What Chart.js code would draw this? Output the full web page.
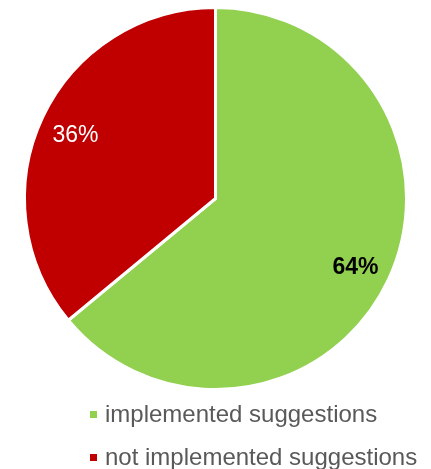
<!DOCTYPE html>
<html>
<head>
<meta charset="utf-8">
<script src="https://cdn.jsdelivr.net/npm/chart.js@4"></script>
<style>
  html, body { margin: 0; padding: 0; background: #fff; }
  #wrap { width: 431px; height: 469px; }
</style>
</head>
<body>
<div id="wrap"><canvas id="pieChart" width="431" height="469"></canvas></div>
<script>
// Data
const categories  = ['implemented suggestions', 'not implemented suggestions'];
const shares      = [64, 36];
const shareLabels = ['64%', '36%'];
const sliceColors = ['#92D050', '#C00000'];

// Percent labels inside the slices
const sliceLabels = {
  id: 'sliceLabels',
  afterDatasetsDraw(chart) {
    const ctx = chart.ctx;
    const arcs = chart.getDatasetMeta(0).data;
    ctx.save();
    ctx.textAlign = 'center';
    ctx.textBaseline = 'middle';
    arcs.forEach((arc, i) => {
      const p = arc.getProps(['x', 'y', 'startAngle', 'endAngle', 'outerRadius'], true);
      const mid = (p.startAngle + p.endAngle) / 2;
      const r = p.outerRadius * 0.81;
      const bold = i === 0;
      ctx.font = (bold ? 'bold ' : '') + '23px "Liberation Sans", Arial, sans-serif';
      ctx.fillStyle = bold ? '#000000' : '#ffffff';
      // small nudge down so the digits sit centred like the original
      ctx.fillText(shareLabels[i], p.x + Math.cos(mid) * r, p.y + Math.sin(mid) * r + 3);
    });
    ctx.restore();
  }
};

// Legend stacked under the pie
const stackedLegend = {
  id: 'stackedLegend',
  afterDraw(chart) {
    const ctx = chart.ctx;
    ctx.save();
    ctx.font = '24px "Liberation Sans", Arial, sans-serif';
    ctx.textBaseline = 'alphabetic';
    ctx.textAlign = 'left';
    categories.forEach((name, i) => {
      const base = 422 + i * 43;
      ctx.fillStyle = sliceColors[i];
      ctx.fillRect(90, base - 11, 7, 7);
      ctx.fillStyle = '#595959';
      ctx.fillText(name, 105, base);
    });
    ctx.restore();
  }
};

const ctx = document.getElementById('pieChart').getContext('2d');
new Chart(ctx, {
  type: 'pie',
  data: {
    labels: categories,
    datasets: [{
      data: shares,
      backgroundColor: sliceColors,
      borderColor: '#ffffff',
      borderWidth: 3
    }]
  },
  options: {
    responsive: false,
    animation: false,
    layout: { padding: { top: 6, bottom: 78, left: 23, right: 23 } },
    plugins: {
      legend: { display: false },
      tooltip: { enabled: false }
    }
  },
  plugins: [sliceLabels, stackedLegend]
});
</script>
</body>
</html>
